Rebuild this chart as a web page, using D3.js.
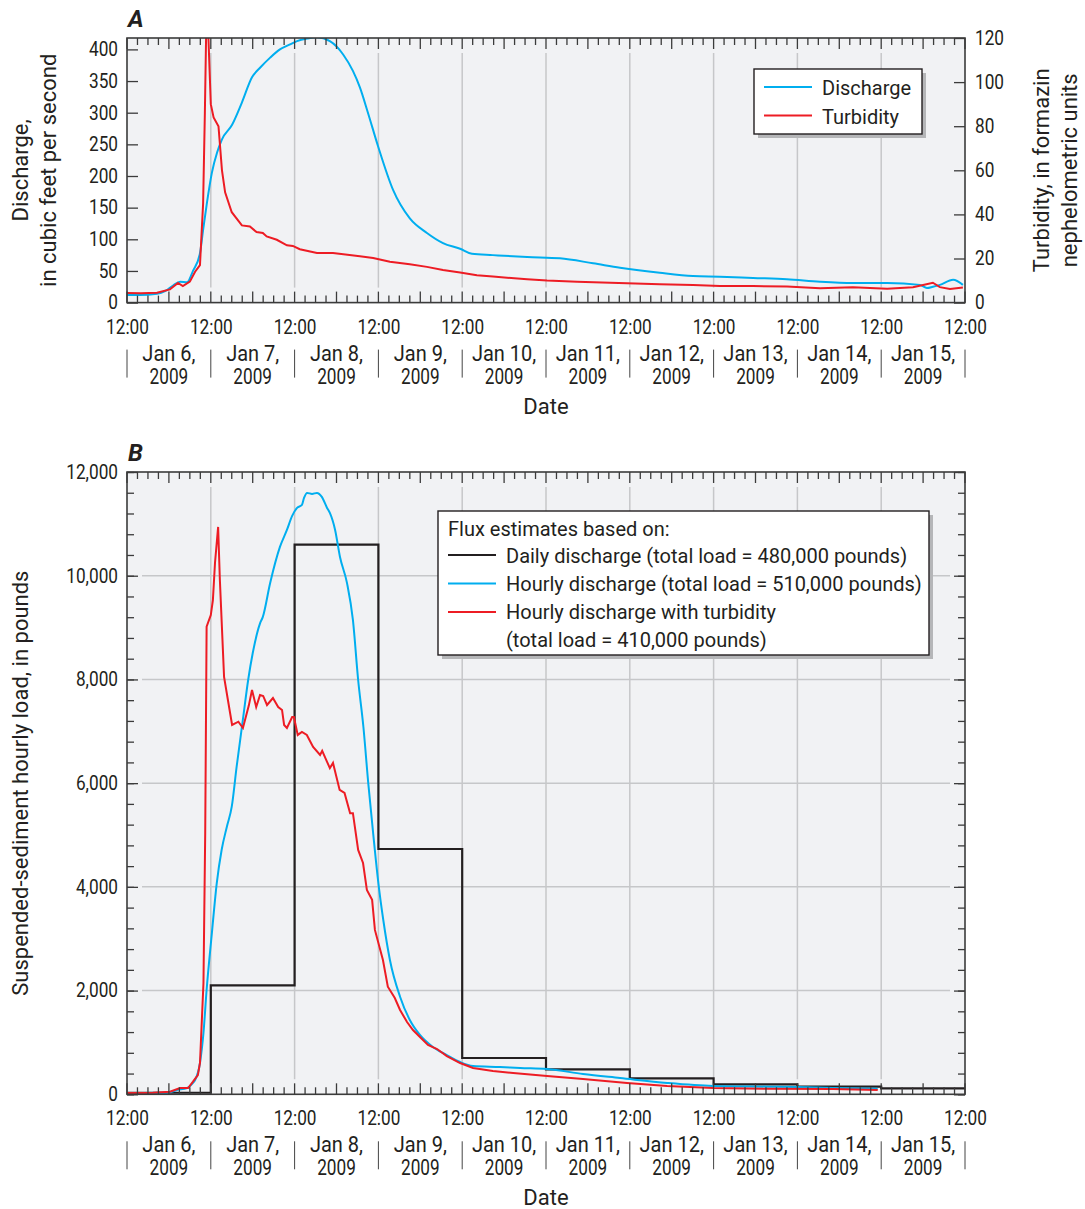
<!DOCTYPE html>
<html>
<head>
<meta charset="utf-8">
<script src="https://cdn.jsdelivr.net/npm/d3@7"></script>
<style>
body { margin: 0; background: #fff; }
svg text { font-family: Roboto, "Liberation Sans", sans-serif; fill: #231f20; }
</style>
</head>
<body>
<div id="chart"></div>
<script>
// ---- data (hours after 12:00 Jan 5, 2009) ----
const dischargeHours = [0, 3.7, 8.6, 10.9, 13.2, 15.2, 17.2, 18.9, 20.9, 21.8, 22.9, 24.3, 25.8, 27.2, 30.1, 32.9, 35.8, 38.1, 41.0, 43.8, 46.7, 48.7, 51.6, 54.4, 58.1, 61.9, 64.7, 66.7, 69.0, 71.9, 76.2, 81.0, 85.9, 90.5, 95.4, 98.8, 104.8, 114.6, 124.0, 133.5, 141.2, 152.6, 162.1, 169.8, 179.3, 189.0, 198.5, 207.9, 217.7, 227.1, 229.1, 230.8, 232.8, 236.6, 239.4];
const dischargeCfs = [12, 12, 14, 18, 27, 33, 32, 50, 78, 115, 158, 205, 237, 258, 281, 316, 356, 371, 387, 400, 408, 413, 417, 419, 413, 392, 366, 340, 300, 247, 178, 133, 110, 94, 85, 77, 75, 72, 70, 62, 55, 47, 42, 41, 39, 37, 33, 31, 31, 28, 23, 25, 28, 36, 28];

const turbidityHours = [0, 4, 8.6, 12.3, 14.6, 16.0, 18.0, 19.5, 20.9, 21.8, 22.3, 22.8, 23.3, 24.0, 24.8, 26.2, 27.2, 28.1, 30.0, 32.9, 35.2, 37.1, 38.9, 40.0, 42.9, 45.8, 47.5, 49.5, 54.4, 59.0, 66.7, 70.5, 75.3, 81.0, 85.9, 90.5, 95.4, 100.2, 104.8, 114.6, 120.3, 128.9, 143.2, 152.6, 162.1, 169.8, 179.3, 189.0, 198.5, 207.9, 217.7, 225.1, 228.0, 230.8, 232.8, 235.7, 239.4];
const turbidityFnu = [4.4, 4.2, 4.5, 6, 8.9, 7.5, 9.5, 14, 17, 45, 86, 135, 121, 90, 84, 80, 60, 50, 41, 35, 34.5, 32, 31.6, 30, 28.5, 26, 25.7, 24.2, 22.5, 22.5, 21, 20.2, 18.5, 17.4, 16.2, 14.8, 13.6, 12.4, 11.8, 10.6, 10, 9.5, 8.8, 8.3, 8, 7.5, 7.5, 7.3, 6.5, 7, 6.3, 7, 8, 9, 7, 6.2, 6.8];

// daily discharge flux, one value per 12:00-12:00 day
const dailyLoad = [30, 2100, 10600, 4730, 700, 482, 308, 193, 147, 115];

const hourlyQHours = [0, 11.5, 14.3, 17.2, 18.9, 19.5, 20.9, 21.9, 22.8, 24.3, 25.7, 27.1, 28.6, 30.0, 31.4, 33.3, 34.7, 36.0, 38.1, 38.9, 41.0, 43.8, 45.8, 47.3, 48.7, 50.1, 50.7, 51.6, 53.0, 54.4, 55.8, 57.3, 58.1, 59.6, 61.0, 63.0, 64.7, 66.2, 67.7, 69.1, 70.5, 72.0, 73.4, 75.3, 78.2, 81.0, 83.9, 87.6, 91.6, 95.4, 99.1, 106.8, 112.6, 120.3, 130.6, 141.2, 154.7, 167.8, 183.3, 191.9, 202.2, 215];
const hourlyQLoad = [25, 30, 83, 121, 218, 276, 604, 1182, 2011, 3104, 4069, 4711, 5160, 5546, 6317, 7281, 7989, 8504, 9082, 9206, 9861, 10555, 10883, 11153, 11307, 11365, 11500, 11597, 11577, 11597, 11520, 11307, 11210, 10883, 10362, 9861, 9147, 7989, 7088, 5997, 5033, 4069, 3361, 2590, 1882, 1433, 1144, 912, 757, 622, 545, 526, 507, 488, 391, 314, 218, 160, 147, 140, 121, 108];

const hourlyTHours = [0, 7.4, 12.3, 15.2, 17.5, 18.9, 20.3, 20.9, 21.9, 22.4, 22.8, 24.0, 24.6, 25.2, 26.1, 26.6, 27.8, 28.9, 30.1, 31.9, 33.2, 34.9, 35.8, 37.0, 38.1, 39.0, 40.1, 41.8, 43.3, 44.4, 45.0, 45.8, 47.3, 47.8, 48.9, 50.1, 51.5, 53.3, 55.3, 55.9, 57.3, 58.1, 59.0, 60.9, 62.3, 63.9, 64.7, 66.2, 67.6, 68.7, 70.2, 71.0, 73.3, 74.7, 76.7, 78.2, 80.2, 81.9, 83.9, 86.2, 88.8, 91.6, 95.4, 99.1, 104.8, 110.6, 120.3, 130.6, 143.2, 154.7, 167.8, 183.3, 202.2, 215];
const hourlyTLoad = [25, 30, 50, 121, 121, 243, 372, 604, 2146, 5040, 9016, 9242, 9531, 10246, 10941, 9918, 8048, 7604, 7122, 7185, 7064, 7500, 7797, 7469, 7700, 7681, 7507, 7642, 7469, 7411, 7122, 7064, 7276, 7276, 6930, 6988, 6930, 6700, 6545, 6622, 6410, 6290, 6390, 5870, 5810, 5420, 5420, 4713, 4460, 3940, 3750, 3170, 2590, 2075, 1857, 1626, 1394, 1240, 1105, 950, 873, 738, 603, 507, 449, 410, 353, 295, 218, 160, 121, 108, 102, 83];

const dischargeTicks = [0, 50, 100, 150, 200, 250, 300, 350, 400];
const turbidityTicks = [0, 20, 40, 60, 80, 100, 120];
const loadTicks = [0, 2000, 4000, 6000, 8000, 10000, 12000];
const legendA = ["Discharge", "Turbidity"];
const legendB = ["Daily discharge (total load = 480,000 pounds)", "Hourly discharge (total load = 510,000 pounds)", "Hourly discharge with turbidity", "(total load = 410,000 pounds)"];

const BLUE = "#00aeef", RED = "#ed1c24", BLACK = "#231f20";
const t0 = new Date(2009, 0, 5, 12), t1 = new Date(2009, 0, 15, 12);
const toDate = h => new Date(t0.getTime() + h * 3600e3);
const zip = (hs, vs) => hs.map((h, i) => ({ t: toDate(h), v: vs[i] }));
const noons = d3.range(0, 241, 24).map(toDate);
const midnights = d3.range(12, 240, 24).map(toDate);
const threeHours = d3.range(0, 241, 3).map(toDate);

const svg = d3.select("#chart").append("svg")
    .attr("width", 1085).attr("height", 1209);

const x = d3.scaleTime().domain([t0, t1]).range([127, 965]);
const left = 127, right = 965;

// narrow the glyphs horizontally around each text's own x
function squeeze(sel, sx) {
    sel.each(function() {
        const t = d3.select(this);
        const x0 = +t.attr("x") || 0;
        t.attr("transform", "translate(" + x0 + ",0) scale(" + sx + ",1) translate(" + (-x0) + ",0)");
    });
}

function panel(top, bottom, id) {
    const g = svg.append("g");
    g.append("rect").attr("x", left).attr("y", top)
        .attr("width", right - left).attr("height", bottom - top)
        .attr("fill", "#f1f2f4");
    svg.append("clipPath").attr("id", id).append("rect")
        .attr("x", left).attr("y", top).attr("width", right - left).attr("height", bottom - top);
    // vertical grid at 12:00
    g.selectAll(".vg").data(noons.slice(1, -1)).enter().append("line")
        .attr("x1", d => x(d)).attr("x2", d => x(d))
        .attr("y1", top + 15).attr("y2", bottom - 15)
        .attr("stroke", "#c6c7c9").attr("stroke-width", 1.5);
    return g;
}

function frame(g, top, bottom) {
    g.append("rect").attr("x", left).attr("y", top)
        .attr("width", right - left).attr("height", bottom - top)
        .attr("fill", "none").attr("stroke", "#3b3b3b").attr("stroke-width", 1.6);
    // 3-hour ticks top and bottom, longer at 00:00 and 12:00
    const len = (d, i) => (i % 4 === 0 ? 11 : 7);
    g.selectAll(".tt").data(threeHours).enter().append("line")
        .attr("x1", d => x(d)).attr("x2", d => x(d))
        .attr("y1", top).attr("y2", (d, i) => top + len(d, i))
        .attr("stroke", "#3b3b3b").attr("stroke-width", 1.3);
    g.selectAll(".tb").data(threeHours).enter().append("line")
        .attr("x1", d => x(d)).attr("x2", d => x(d))
        .attr("y1", bottom).attr("y2", (d, i) => bottom - len(d, i))
        .attr("stroke", "#3b3b3b").attr("stroke-width", 1.3);

    // time labels
    const xAxis = g.append("g").attr("transform", "translate(0," + bottom + ")")
        .call(d3.axisBottom(x).tickValues(noons).tickSize(0).tickFormat(d3.timeFormat("%H:%M")));
    xAxis.select(".domain").remove();
    xAxis.selectAll("text").attr("y", 31).attr("dy", null)
        .style("font-size", "21px").style("font-family", null).attr("fill", BLACK)
        .call(squeeze, 0.82);

    g.selectAll(".dm").data(midnights).enter().append("text")
        .attr("x", d => x(d)).attr("y", bottom + 58)
        .attr("text-anchor", "middle").style("font-size", "21.5px")
        .text(d3.timeFormat("%b %-d,"))
        .call(squeeze, 0.93);
    g.selectAll(".dy").data(midnights).enter().append("text")
        .attr("x", d => x(d)).attr("y", bottom + 81)
        .attr("text-anchor", "middle").style("font-size", "21.5px")
        .text(d3.timeFormat("%Y"))
        .call(squeeze, 0.8);
    g.selectAll(".sep").data(noons).enter().append("line")
        .attr("x1", d => x(d)).attr("x2", d => x(d))
        .attr("y1", bottom + 47).attr("y2", bottom + 75)
        .attr("stroke", "#444").attr("stroke-width", 1);
    g.append("text").attr("x", (left + right) / 2).attr("y", bottom + 111)
        .attr("text-anchor", "middle").style("font-size", "22px")
        .text("Date");
}

function styleAxis(a) {
    a.select(".domain").remove();
    a.selectAll("line").attr("stroke", "#3b3b3b").attr("stroke-width", 1.3);
    a.selectAll("text").style("font-size", "21px").style("font-family", null).attr("fill", BLACK)
        .attr("dy", "0.3em")
        .call(squeeze, 0.82);
}

function legendBox(x0, y0, w, h) {
    svg.append("rect").attr("x", x0 + 4).attr("y", y0 + 4).attr("width", w).attr("height", h).attr("fill", "#b5b6b8");
    svg.append("rect").attr("x", x0).attr("y", y0).attr("width", w).attr("height", h)
        .attr("fill", "#fff").attr("stroke", BLACK).attr("stroke-width", 1.4);
}

// ---------------- Panel A ----------------
const aTop = 38, aBot = 302.6;
const yQ = d3.scaleLinear().domain([0, 418]).range([aBot, aTop]);
const yT = d3.scaleLinear().domain([0, 120]).range([aBot, aTop]);
const gA = panel(aTop, aBot, "clipA");

gA.append("path").datum(zip(dischargeHours, dischargeCfs))
    .attr("clip-path", "url(#clipA)")
    .attr("fill", "none").attr("stroke", BLUE).attr("stroke-width", 2)
    .attr("d", d3.line().x(d => x(d.t)).y(d => yQ(d.v)).curve(d3.curveMonotoneX));
gA.append("path").datum(zip(turbidityHours, turbidityFnu))
    .attr("clip-path", "url(#clipA)")
    .attr("fill", "none").attr("stroke", RED).attr("stroke-width", 2)
    .attr("d", d3.line().x(d => x(d.t)).y(d => yT(d.v)));

frame(gA, aTop, aBot);

styleAxis(gA.append("g").attr("transform", "translate(" + left + ",0)")
    .call(d3.axisLeft(yQ).tickValues(dischargeTicks).tickSizeInner(-11).tickSizeOuter(0).tickPadding(9)));
styleAxis(gA.append("g").attr("transform", "translate(" + right + ",0)")
    .call(d3.axisRight(yT).tickValues(turbidityTicks).tickSizeInner(-11).tickSizeOuter(0).tickPadding(10)));

svg.append("text").attr("x", 128).attr("y", 27)
    .style("font-size", "24px").style("font-weight", "bold").style("font-style", "italic").text("A");

const titleA = svg.append("text").attr("transform", "translate(28," + (aTop + aBot) / 2 + ") rotate(-90)")
    .attr("text-anchor", "middle").style("font-size", "22px");
titleA.append("tspan").attr("x", 0).attr("y", 0).text("Discharge,");
titleA.append("tspan").attr("x", 0).attr("y", 28).text("in cubic feet per second");

const titleAR = svg.append("text").attr("transform", "translate(1049," + (aTop + aBot) / 2 + ") rotate(-90)")
    .attr("text-anchor", "middle").style("font-size", "22px");
titleAR.append("tspan").attr("x", 0).attr("y", 0).text("Turbidity, in formazin");
titleAR.append("tspan").attr("x", 0).attr("y", 28).text("nephelometric units");

legendBox(754, 69, 168, 65);
[BLUE, RED].forEach((c, i) => {
    svg.append("line").attr("x1", 764).attr("x2", 812).attr("y1", 87 + i * 28.5).attr("y2", 87 + i * 28.5)
        .attr("stroke", c).attr("stroke-width", 2);
    svg.append("text").attr("x", 822).attr("y", 95 + i * 28.5)
        .style("font-size", "20px").text(legendA[i]);
});

// ---------------- Panel B ----------------
const bTop = 472, bBot = 1094.3;
const yL = d3.scaleLinear().domain([0, 12000]).range([bBot, bTop]);
const gB = panel(bTop, bBot, "clipB");

gB.selectAll(".hg").data(loadTicks.slice(1, -1)).enter().append("line")
    .attr("x1", left + 15).attr("x2", right - 15)
    .attr("y1", d => yL(d)).attr("y2", d => yL(d))
    .attr("stroke", "#c6c7c9").attr("stroke-width", 1.5);

const daily = dailyLoad.map((v, i) => ({ t: noons[i], v: v }));
daily.push({ t: t1, v: dailyLoad[dailyLoad.length - 1] });
gB.append("path").datum(daily)
    .attr("fill", "none").attr("stroke", BLACK).attr("stroke-width", 2.2)
    .attr("d", d3.line().x(d => x(d.t)).y(d => yL(d.v)).curve(d3.curveStepAfter));
gB.append("path").datum(zip(hourlyQHours, hourlyQLoad))
    .attr("fill", "none").attr("stroke", BLUE).attr("stroke-width", 2)
    .attr("d", d3.line().x(d => x(d.t)).y(d => yL(d.v)).curve(d3.curveMonotoneX));
gB.append("path").datum(zip(hourlyTHours, hourlyTLoad))
    .attr("fill", "none").attr("stroke", RED).attr("stroke-width", 2)
    .attr("d", d3.line().x(d => x(d.t)).y(d => yL(d.v)));

frame(gB, bTop, bBot);

const minorLoad = d3.range(0, 12001, 400);
styleAxis(gB.append("g").attr("transform", "translate(" + left + ",0)")
    .call(d3.axisLeft(yL).tickValues(minorLoad).tickSizeInner(-7).tickSizeOuter(0).tickFormat("")));
styleAxis(gB.append("g").attr("transform", "translate(" + right + ",0)")
    .call(d3.axisRight(yL).tickValues(minorLoad).tickSizeInner(-7).tickSizeOuter(0).tickFormat("")));
styleAxis(gB.append("g").attr("transform", "translate(" + left + ",0)")
    .call(d3.axisLeft(yL).tickValues(loadTicks).tickSizeInner(-11).tickSizeOuter(0).tickPadding(9).tickFormat(d3.format(","))));
styleAxis(gB.append("g").attr("transform", "translate(" + right + ",0)")
    .call(d3.axisRight(yL).tickValues(loadTicks).tickSizeInner(-11).tickSizeOuter(0).tickFormat("")));

svg.append("text").attr("x", 128).attr("y", 461)
    .style("font-size", "24px").style("font-weight", "bold").style("font-style", "italic").text("B");

svg.append("text").attr("transform", "translate(28," + (bTop + bBot) / 2 + ") rotate(-90)")
    .attr("text-anchor", "middle").style("font-size", "22px")
    .text("Suspended-sediment hourly load, in pounds");

legendBox(438, 511, 491, 144);
svg.append("text").attr("x", 448).attr("y", 536)
    .style("font-size", "20px").text("Flux estimates based on:");
[BLACK, BLUE, RED].forEach((c, i) => {
    svg.append("line").attr("x1", 448).attr("x2", 496).attr("y1", 555 + i * 28.5).attr("y2", 555 + i * 28.5)
        .attr("stroke", c).attr("stroke-width", 2);
});
legendB.forEach((s, i) => {
    svg.append("text").attr("x", 506).attr("y", 563 + i * 28)
        .style("font-size", "20px").text(s);
});
</script>
</body>
</html>
